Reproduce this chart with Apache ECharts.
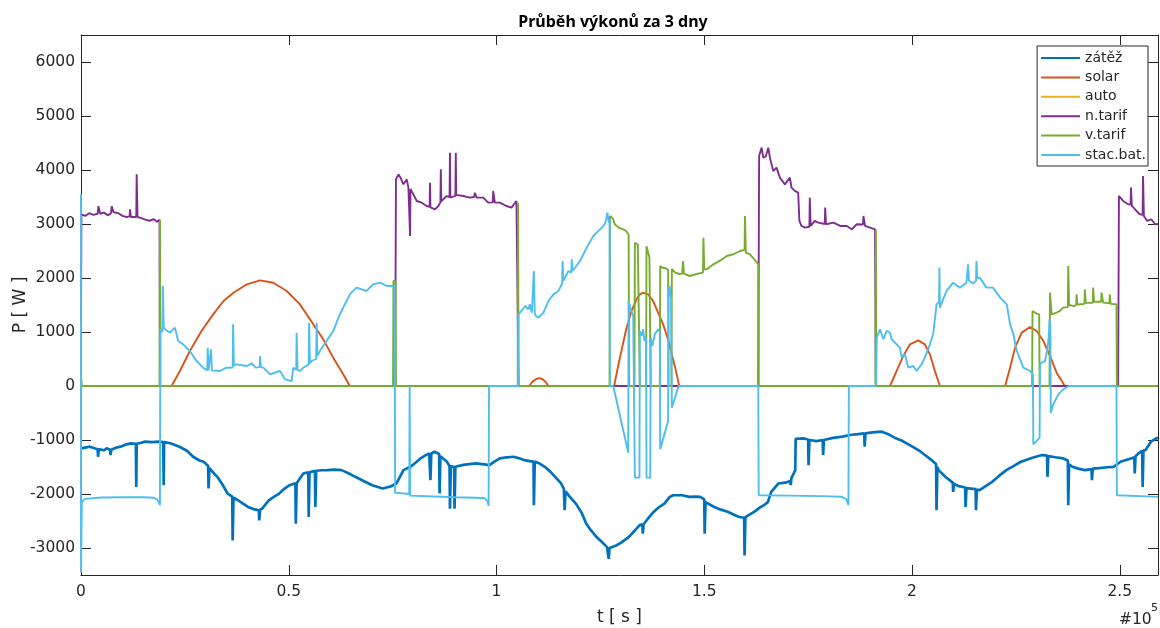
<!DOCTYPE html>
<html>
<head>
<meta charset="utf-8">
<title>Průběh výkonů za 3 dny</title>
<script src="https://cdn.jsdelivr.net/npm/echarts@6.0.0/dist/echarts.min.js"></script>
<style>
  html, body { margin: 0; padding: 0; background: #fff; }
  #chart { width: 1160px; height: 628px; }
</style>
</head>
<body>
<div id="chart"></div>
<script>
// cas v jednotkach 1e5 s, vykon ve W
const xTicks = [0, 0.5, 1, 1.5, 2, 2.5];
const yTicks = [-3000, -2000, -1000, 0, 1000, 2000, 3000, 4000, 5000, 6000];
const names = ['zátěž', 'solar', 'auto', 'n.tarif', 'v.tarif', 'stac.bat.'];

const zatez = [
  [0, -1155], [0.010, -1140], [0.021, -1124], [0.040, -1170], [0.041, -1310], [0.043, -1170],
  [0.055, -1190], [0.062, -1155], [0.070, -1180], [0.071, -1279], [0.073, -1180], [0.085, -1140],
  [0.095, -1124], [0.110, -1080], [0.120, -1062], [0.132, -1070], [0.133, -1868], [0.134, -1070],
  [0.145, -1050], [0.154, -1031], [0.170, -1040], [0.187, -1031], [0.198, -1040], [0.199, -1837],
  [0.200, -1040], [0.215, -1060], [0.237, -1124], [0.255, -1200], [0.270, -1310], [0.285, -1380],
  [0.295, -1403], [0.306, -1480], [0.307, -1899], [0.309, -1520], [0.320, -1620], [0.328, -1682],
  [0.340, -1820], [0.353, -1992], [0.364, -2050], [0.365, -2860], [0.367, -2070], [0.378, -2116],
  [0.390, -2180], [0.402, -2240], [0.415, -2280], [0.428, -2302], [0.429, -2488], [0.431, -2290],
  [0.436, -2271], [0.452, -2116], [0.465, -2050], [0.477, -1992], [0.490, -1900], [0.502, -1837],
  [0.516, -1800], [0.517, -2550], [0.519, -1800], [0.535, -1620], [0.547, -1600], [0.548, -2426],
  [0.550, -1600], [0.563, -1570], [0.564, -2240], [0.566, -1570], [0.580, -1560], [0.593, -1558],
  [0.610, -1550], [0.627, -1558], [0.645, -1620], [0.660, -1682], [0.680, -1760], [0.701, -1837],
  [0.726, -1899], [0.745, -1860], [0.759, -1806], [0.776, -1558], [0.793, -1496], [0.805, -1420],
  [0.817, -1341], [0.830, -1280], [0.838, -1248], [0.840, -1250], [0.841, -1744], [0.843, -1250],
  [0.851, -1217], [0.862, -1260], [0.863, -1992], [0.865, -1300], [0.880, -1400], [0.887, -1480],
  [0.888, -2271], [0.890, -1490], [0.898, -1496], [0.899, -2271], [0.901, -1496], [0.920, -1460],
  [0.950, -1434], [0.970, -1450], [0.983, -1465], [0.995, -1400], [1.008, -1341], [1.025, -1320],
  [1.041, -1310], [1.055, -1340], [1.066, -1372], [1.080, -1390], [1.089, -1400], [1.090, -2209],
  [1.092, -1400], [1.105, -1440], [1.116, -1496], [1.130, -1590], [1.141, -1682], [1.155, -1800],
  [1.162, -1899], [1.164, -2302], [1.166, -1950], [1.175, -2040], [1.191, -2178], [1.205, -2350],
  [1.216, -2550], [1.228, -2680], [1.241, -2798], [1.255, -2900], [1.266, -2984], [1.269, -3010],
  [1.270, -3201], [1.272, -3000], [1.288, -2953], [1.300, -2900], [1.318, -2798], [1.330, -2700],
  [1.344, -2581], [1.351, -2560], [1.352, -2736], [1.354, -2560], [1.365, -2450], [1.378, -2333],
  [1.390, -2250], [1.404, -2178], [1.417, -2054], [1.425, -2023], [1.447, -2023], [1.464, -2054],
  [1.480, -2050], [1.490, -2054], [1.500, -2100], [1.501, -2736], [1.503, -2150], [1.507, -2178],
  [1.524, -2240], [1.540, -2290], [1.558, -2333], [1.570, -2380], [1.584, -2426], [1.596, -2440],
  [1.597, -3139], [1.599, -2430], [1.603, -2426], [1.620, -2330], [1.636, -2240], [1.645, -2200],
  [1.653, -2150], [1.661, -1961], [1.670, -1880], [1.678, -1806], [1.695, -1790], [1.707, -1760],
  [1.708, -1837], [1.710, -1700], [1.719, -1560], [1.720, -980], [1.738, -969], [1.750, -990],
  [1.751, -1465], [1.753, -1000], [1.770, -1020], [1.785, -1000], [1.786, -1279], [1.788, -1000],
  [1.810, -960], [1.833, -938], [1.850, -907], [1.870, -890], [1.885, -876], [1.886, -1124],
  [1.888, -876], [1.905, -860], [1.927, -845], [1.945, -900], [1.961, -969], [1.975, -1010],
  [1.987, -1062], [2.005, -1140], [2.021, -1217], [2.035, -1300], [2.047, -1372], [2.058, -1450],
  [2.059, -2302], [2.061, -1500], [2.064, -1558], [2.080, -1680], [2.098, -1790], [2.099, -1961],
  [2.101, -1810], [2.110, -1850], [2.128, -1880], [2.129, -2240], [2.131, -1890], [2.142, -1899],
  [2.153, -1910], [2.154, -2302], [2.156, -1920], [2.163, -1930], [2.178, -1850], [2.193, -1775],
  [2.210, -1660], [2.227, -1558], [2.245, -1480], [2.262, -1403], [2.290, -1330], [2.313, -1279],
  [2.325, -1290], [2.326, -1682], [2.328, -1300], [2.345, -1320], [2.364, -1341], [2.375, -1380],
  [2.376, -2209], [2.378, -1450], [2.386, -1496], [2.400, -1530], [2.416, -1558], [2.432, -1540],
  [2.433, -1744], [2.435, -1530], [2.450, -1520], [2.470, -1505], [2.485, -1496], [2.502, -1403],
  [2.515, -1370], [2.527, -1341], [2.535, -1320], [2.536, -1620], [2.538, -1300], [2.545, -1248],
  [2.554, -1200], [2.555, -1868], [2.557, -1190], [2.562, -1186], [2.575, -1031], [2.588, -969],
  [2.592, -960]
];

const solar = [
  [0, 0], [0.218, 0], [0.238, 278], [0.262, 648], [0.290, 1019], [0.318, 1327], [0.343, 1574],
  [0.367, 1728], [0.399, 1883], [0.431, 1957], [0.463, 1913], [0.495, 1759], [0.527, 1512],
  [0.559, 1142], [0.583, 864], [0.607, 525], [0.631, 216], [0.647, 0],
  [1.078, 0], [1.088, 90], [1.097, 135], [1.103, 145], [1.110, 130], [1.118, 80], [1.125, 0],
  [1.283, 0], [1.297, 525], [1.313, 1080], [1.325, 1389], [1.337, 1605], [1.345, 1698],
  [1.353, 1728], [1.365, 1698], [1.377, 1574], [1.389, 1358], [1.401, 1142], [1.414, 833],
  [1.422, 586], [1.430, 340], [1.438, 62], [1.440, 0],
  [1.947, 0], [1.963, 278], [1.979, 556], [1.995, 772], [2.015, 846], [2.031, 772], [2.043, 587],
  [2.055, 278], [2.067, 0],
  [2.224, 0], [2.236, 340], [2.248, 710], [2.264, 988], [2.284, 1093], [2.300, 1019], [2.316, 834],
  [2.332, 556], [2.348, 247], [2.368, 0], [2.592, 0]
];

const auto = [[0, 0], [2.592, 0]];

const nTarif = [
  [0, 1150], [0.001, 3180], [0.010, 3150], [0.020, 3200], [0.030, 3170], [0.040, 3190],
  [0.042, 3330], [0.046, 3190], [0.055, 3210], [0.065, 3160], [0.072, 3200], [0.074, 3330],
  [0.078, 3220], [0.090, 3200], [0.100, 3150], [0.110, 3130], [0.117, 3140], [0.118, 3270],
  [0.120, 3130], [0.133, 3130], [0.134, 3920], [0.136, 3130], [0.145, 3110], [0.155, 3080],
  [0.165, 3060], [0.175, 3090], [0.183, 3040], [0.189, 3080], [0.190, 0], [0.756, 0],
  [0.758, 3827], [0.764, 3920], [0.769, 3858], [0.776, 3735], [0.784, 3827], [0.788, 3673],
  [0.791, 3650], [0.792, 2778], [0.793, 3650], [0.796, 3673], [0.800, 3549], [0.808, 3426],
  [0.820, 3395], [0.832, 3333], [0.839, 3320], [0.840, 3765], [0.841, 3310], [0.844, 3302],
  [0.852, 3272], [0.860, 3333], [0.865, 3400], [0.866, 4012], [0.867, 3420], [0.870, 3426],
  [0.880, 3518], [0.887, 3500], [0.888, 4321], [0.889, 3490], [0.892, 3488], [0.901, 3520],
  [0.902, 4321], [0.903, 3540], [0.906, 3549], [0.920, 3518], [0.936, 3488], [0.946, 3500],
  [0.948, 3580], [0.952, 3488], [0.968, 3488], [0.980, 3395], [0.991, 3400], [0.992, 3611],
  [0.996, 3395], [1.008, 3395], [1.024, 3333], [1.036, 3302], [1.048, 3426], [1.052, 3395],
  [1.053, 0], [1.630, 0],
  [1.632, 4260], [1.638, 4414], [1.642, 4229], [1.648, 4250], [1.654, 4414], [1.658, 4229],
  [1.666, 3982], [1.674, 4044], [1.682, 3859], [1.694, 3735], [1.706, 3859], [1.710, 3674],
  [1.718, 3612], [1.726, 3581], [1.729, 3056], [1.734, 2964], [1.742, 2933], [1.753, 2950],
  [1.754, 3488], [1.756, 2964], [1.766, 3056], [1.774, 3026], [1.790, 3000], [1.791, 3303],
  [1.793, 2995], [1.811, 3026], [1.827, 2964], [1.843, 2964], [1.855, 2902], [1.867, 2995],
  [1.882, 2990], [1.883, 3149], [1.887, 2964], [1.899, 2933], [1.911, 2902], [1.913, 0],
  [2.496, 0], [2.498, 3519], [2.508, 3427], [2.520, 3365], [2.526, 3360], [2.527, 3674],
  [2.529, 3340], [2.540, 3242], [2.548, 3180], [2.555, 3170], [2.556, 3890], [2.558, 3150],
  [2.566, 3056], [2.576, 3087], [2.585, 2995], [2.592, 3000]
];

const vTarif = [
  [0, 180], [0.002, 0], [0.189, 0], [0.190, 3080], [0.191, 0],
  [0.751, 0], [0.752, 1945], [0.757, 1945], [0.758, 0],
  [1.051, 0], [1.052, 3395], [1.053, 0],
  [1.272, 0], [1.273, 3150], [1.280, 3100], [1.285, 2990], [1.295, 2930], [1.305, 2900],
  [1.312, 2870], [1.318, 2800], [1.319, 0], [1.332, 0], [1.333, 2650], [1.340, 2620],
  [1.344, 2600], [1.345, 0], [1.360, 0], [1.361, 2590], [1.368, 2380], [1.370, 2370],
  [1.371, 0], [1.393, 0], [1.394, 2220], [1.400, 2190], [1.407, 2180], [1.413, 2150],
  [1.414, 0], [1.421, 0], [1.422, 2170], [1.430, 2100], [1.441, 2074], [1.447, 2080],
  [1.449, 2315], [1.451, 2080], [1.465, 2037], [1.475, 2060], [1.485, 2080], [1.497, 2100],
  [1.498, 2747], [1.500, 2160], [1.506, 2160], [1.522, 2253], [1.540, 2330], [1.554, 2407],
  [1.570, 2440], [1.586, 2500], [1.597, 2520], [1.598, 3148], [1.600, 2470], [1.610, 2438],
  [1.620, 2350], [1.630, 2253], [1.631, 0],
  [1.912, 0], [1.913, 2900], [1.914, 0],
  [2.289, 0], [2.290, 1389], [2.300, 1340], [2.306, 1327], [2.307, 0], [2.331, 0],
  [2.332, 1729], [2.336, 1328], [2.348, 1359], [2.356, 1390], [2.364, 1451], [2.375, 1460],
  [2.376, 2223], [2.378, 1500], [2.380, 1513], [2.390, 1480], [2.395, 1500], [2.396, 1698],
  [2.398, 1510], [2.415, 1520], [2.416, 1791], [2.418, 1540], [2.435, 1540], [2.436, 1822],
  [2.438, 1560], [2.455, 1560], [2.456, 1729], [2.460, 1544], [2.475, 1530], [2.476, 1698],
  [2.478, 1520], [2.492, 1513], [2.493, 0], [2.592, 0]
];

const stacBat = [
  [0, 3550], [0, -3450], [0.002, -2150], [0.010, -2090], [0.050, -2065], [0.100, -2060],
  [0.150, -2060], [0.175, -2070], [0.183, -2100], [0.188, -2160], [0.190, -2209],
  [0.191, 1050], [0.196, 1000], [0.197, 1852], [0.199, 1100], [0.202, 1050], [0.214, 988],
  [0.226, 1080], [0.234, 833], [0.246, 771], [0.262, 648], [0.278, 463], [0.294, 339],
  [0.304, 290], [0.305, 710], [0.307, 290], [0.310, 278], [0.313, 680], [0.315, 290],
  [0.334, 278], [0.350, 339], [0.365, 340], [0.366, 1142], [0.368, 380], [0.374, 401],
  [0.399, 370], [0.411, 420], [0.420, 340], [0.430, 350], [0.431, 556], [0.433, 350],
  [0.439, 339], [0.455, 216], [0.479, 278], [0.491, 123], [0.507, 92], [0.511, 339],
  [0.518, 300], [0.519, 988], [0.521, 300], [0.527, 278], [0.535, 339], [0.548, 400],
  [0.549, 1173], [0.551, 420], [0.555, 463], [0.566, 500], [0.567, 1173], [0.569, 560],
  [0.575, 648], [0.591, 833], [0.607, 1018], [0.623, 1327], [0.631, 1450], [0.639, 1574],
  [0.647, 1697], [0.663, 1821], [0.687, 1759], [0.703, 1882], [0.720, 1913], [0.736, 1852],
  [0.755, 1852], [0.756, -1975], [0.790, -2000], [0.791, 0], [0.792, -2030], [0.850, -2045],
  [0.900, -2060], [0.950, -2070], [0.972, -2080], [0.978, -2130], [0.981, -2220], [0.982, 0],
  [1.052, 0], [1.053, 1327], [1.069, 1481], [1.077, 1420], [1.080, 1512], [1.085, 1358],
  [1.089, 1350], [1.090, 2130], [1.092, 1350], [1.095, 1296], [1.101, 1265], [1.113, 1358],
  [1.125, 1574], [1.137, 1697], [1.149, 1759], [1.158, 1900], [1.159, 2315], [1.161, 1950],
  [1.165, 1944], [1.173, 2130], [1.180, 2100], [1.181, 2346], [1.183, 2130], [1.185, 2130],
  [1.201, 2315], [1.217, 2562], [1.233, 2778], [1.249, 2901], [1.257, 2960], [1.262, 3025],
  [1.267, 3210], [1.270, 3025], [1.272, 3100], [1.273, 0], [1.281, 0], [1.317, -1234],
  [1.318, 1574], [1.322, 1450], [1.329, 1296], [1.332, 1290], [1.333, -1697], [1.344, -1697],
  [1.345, 1019], [1.349, 925], [1.353, 1050], [1.356, 833], [1.360, 895], [1.361, -1697],
  [1.370, -1697], [1.371, 895], [1.375, 740], [1.381, 957], [1.389, 1050], [1.393, 1000],
  [1.394, -1173], [1.413, -648], [1.414, 1650], [1.416, 1852], [1.420, 1636], [1.422, -401],
  [1.438, 0], [1.630, 0], [1.631, -2023], [1.700, -2030], [1.780, -2040], [1.830, -2050],
  [1.842, -2100], [1.847, -2209], [1.848, 0], [1.913, 0],
  [1.915, 896], [1.923, 1050], [1.931, 865], [1.939, 1019], [1.947, 990], [1.951, 865],
  [1.963, 772], [1.971, 710], [1.975, 525], [1.983, 587], [1.991, 340], [2.003, 370],
  [2.011, 278], [2.023, 402], [2.031, 525], [2.043, 772], [2.051, 958], [2.059, 1513],
  [2.065, 1550], [2.066, 2192], [2.067, 1451], [2.083, 1760], [2.099, 1914], [2.115, 1820],
  [2.131, 1914], [2.134, 1950], [2.135, 2254], [2.137, 1950], [2.147, 1900], [2.154, 1950],
  [2.155, 2316], [2.157, 2000], [2.163, 2007], [2.179, 1822], [2.195, 1822], [2.212, 1637],
  [2.228, 1513], [2.236, 1143], [2.244, 958], [2.252, 649], [2.268, 340], [2.284, 278],
  [2.291, 217], [2.292, -1080], [2.307, -960], [2.308, 420], [2.320, 460], [2.326, 700],
  [2.329, 900], [2.331, 1230], [2.333, 1100], [2.334, -500], [2.340, -340], [2.352, -155],
  [2.364, -62], [2.378, 0], [2.492, 0], [2.493, -2023], [2.550, -2040], [2.592, -2054]
];

const seriesData = [zatez, solar, auto, nTarif, vTarif, stacBat];
const colors = ['#0072BD', '#D95319', '#EDB120', '#7E2F8E', '#77AC30', '#4DBEEE'];
const widths = [2.7, 1.9, 1.9, 1.9, 1.9, 1.9];

const axisColor = '#262626';
const tickFont = { fontFamily: 'DejaVu Sans', fontSize: 15.5, color: axisColor };

const chart = echarts.init(document.getElementById('chart'), null, { renderer: 'canvas' });

const xBase = {
  type: 'value',
  min: 0,
  max: 2.592,
  axisLine: { onZero: false, lineStyle: { color: axisColor, width: 1 } },
  axisTick: { inside: true, length: 10, customValues: xTicks, lineStyle: { color: axisColor } },
  splitLine: { show: false },
};
const yBase = {
  type: 'value',
  min: -3500,
  max: 6500,
  axisLine: { onZero: false, lineStyle: { color: axisColor, width: 1 } },
  axisTick: { inside: true, length: 10, customValues: yTicks, lineStyle: { color: axisColor } },
  splitLine: { show: false },
};

chart.setOption({
  animation: false,
  backgroundColor: '#fff',
  title: {
    text: 'Průběh výkonů za 3 dny',
    left: 608,
    textAlign: 'center',
    top: 9,
    textStyle: { fontFamily: 'Noto Sans', fontWeight: 'bold', fontSize: 16, color: '#000' },
  },
  grid: { left: 81, right: 2, top: 35, bottom: 53, containLabel: false, outerBoundsMode: 'none' },
  legend: {
    orient: 'vertical',
    right: 12,
    top: 46,
    icon: 'rect',
    itemWidth: 39,
    itemHeight: 2,
    itemGap: 5.4,
    padding: [5, 2, 4, 4],
    selectedMode: false,
    backgroundColor: '#fff',
    borderColor: axisColor,
    borderWidth: 1,
    textStyle: { fontFamily: 'DejaVu Sans', fontSize: 14, color: axisColor, lineHeight: 14 },
    data: names,
  },
  xAxis: [
    Object.assign({}, xBase, {
      position: 'bottom',
      name: 't [ s ]',
      nameLocation: 'middle',
      nameGap: 34,
      nameMoveOverlap: false,
      nameTextStyle: { fontFamily: 'DejaVu Sans', fontSize: 17, color: axisColor },
      axisLabel: Object.assign({ customValues: xTicks, margin: 9, formatter: (v) => String(v) }, tickFont),
    }),
    Object.assign({}, xBase, { position: 'top', axisLabel: { show: false } }),
  ],
  yAxis: [
    Object.assign({}, yBase, {
      position: 'left',
      name: 'P [ W ]',
      nameLocation: 'middle',
      nameGap: 52,
      nameRotate: 90,
      nameMoveOverlap: false,
      nameTextStyle: { fontFamily: 'DejaVu Sans', fontSize: 17, color: axisColor },
      axisLabel: Object.assign({ customValues: yTicks, margin: 6, formatter: (v) => String(v) }, tickFont),
    }),
    Object.assign({}, yBase, { position: 'right', axisLabel: { show: false } }),
  ],
  graphic: [
    { type: 'text', left: 1119, top: 612, style: { text: '#10', font: '15.5px "DejaVu Sans"', fill: axisColor } },
    { type: 'text', left: 1151, top: 603, style: { text: '5', font: '11px "DejaVu Sans"', fill: axisColor } },
  ],
  series: names.map((name, i) => ({
    name,
    type: 'line',
    data: seriesData[i],
    xAxisIndex: 0,
    yAxisIndex: 0,
    showSymbol: false,
    symbol: 'none',
    silent: true,
    lineStyle: { color: colors[i], width: widths[i] },
    itemStyle: { color: colors[i] },
  })),
});

window.addEventListener('resize', () => chart.resize());
</script>
</body>
</html>
